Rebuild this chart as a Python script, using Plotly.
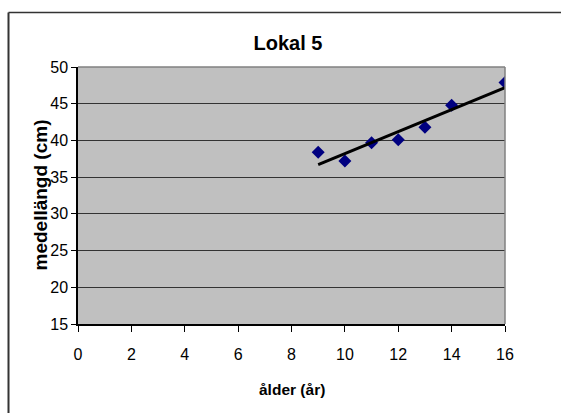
import numpy as np
import plotly.graph_objects as go

# Data
age = [9, 10, 11, 12, 13, 14, 16]
mean_length = [38.4, 37.2, 39.7, 40.1, 41.8, 44.8, 47.9]
x_ticks = [0, 2, 4, 6, 8, 10, 12, 14, 16]
y_ticks = [15, 20, 25, 30, 35, 40, 45, 50]
title_text = "Lokal 5"
x_title = "ålder (år)"
y_title = "medellängd (cm)"

# Linear trendline (least squares on the data)
slope, intercept = np.polyfit(age, mean_length, 1)
trend_x = [min(age), max(age)]
trend_y = [slope * v + intercept for v in trend_x]

W, H = 561, 413
L, R, T, B = 78, 505, 67, 324  # plot area in pixels
pw, ph = R - L, B - T

def px(xp):
    return (xp - L) / pw

def py(yp):
    return (B - yp) / ph

fig = go.Figure()
fig.add_trace(go.Scatter(
    x=age, y=mean_length, mode="markers",
    marker=dict(symbol="diamond", size=10, color="#000080",
                line=dict(width=0)),
    showlegend=False, hoverinfo="x+y"))
fig.add_trace(go.Scatter(
    x=trend_x, y=trend_y, mode="lines",
    line=dict(color="black", width=3),
    showlegend=False, hoverinfo="skip"))

base = "Liberation Sans, Arial, sans-serif"

fig.update_layout(
    width=W, height=H,
    margin=dict(l=L, r=W - R, t=T, b=H - B, pad=0),
    paper_bgcolor="white",
    plot_bgcolor="#C0C0C0",
    font=dict(family=base, size=16, color="black"),
    title=dict(text="<b>" + title_text + "</b>",
               x=px(288), xref="paper", xanchor="center",
               y=1 - 43 / H, yref="container", yanchor="middle",
               font=dict(family=base, size=20, color="black")),
    xaxis=dict(range=[0, 16], tickvals=x_ticks, ticktext=[str(v) for v in x_ticks],
               showgrid=False, zeroline=False,
               showline=True, linecolor="black", linewidth=1.5,
               ticks="outside", ticklen=6, tickcolor="black", tickwidth=1,
               ticklabelstandoff=9,
               tickfont=dict(family=base, size=16, color="black"),
               fixedrange=True),
    yaxis=dict(range=[15, 50], tickvals=y_ticks, ticktext=[str(v) for v in y_ticks],
               showgrid=True, gridcolor="#333333", gridwidth=1,
               zeroline=False,
               showline=True, linecolor="black", linewidth=1.5,
               ticks="outside", ticklen=5, tickcolor="black", tickwidth=1,
               ticklabelstandoff=0,
               tickfont=dict(family=base, size=16, color="black"),
               fixedrange=True),
    annotations=[
        dict(text="<b>" + x_title + "</b>", x=px(291.5), y=py(389),
             xref="paper", yref="paper", xanchor="center", yanchor="middle",
             showarrow=False, font=dict(family=base, size=15.5, color="black")),
        dict(text="<b>" + y_title + "</b>", x=px(40), y=py(195.5),
             xref="paper", yref="paper", xanchor="center", yanchor="middle",
             textangle=-90, showarrow=False,
             font=dict(family=base, size=19, color="black")),
    ],
    shapes=[
        # gray top and right borders of plot area
        dict(type="line", xref="paper", yref="paper", x0=0, x1=1, y0=1, y1=1,
             line=dict(color="#808080", width=1.5), layer="above"),
        dict(type="line", xref="paper", yref="paper", x0=1, x1=1, y0=0, y1=1,
             line=dict(color="#808080", width=1.5), layer="above"),
        # outer chart border (left and top)
        dict(type="line", xref="paper", yref="paper",
             x0=px(8.5), x1=px(8.5), y0=py(12.5), y1=py(430),
             line=dict(color="#333333", width=2)),
        dict(type="line", xref="paper", yref="paper",
             x0=px(8.5), x1=px(580), y0=py(12.5), y1=py(12.5),
             line=dict(color="#333333", width=1.5)),
    ],
)

fig.write_html("out.html", config=dict(displayModeBar=False))
